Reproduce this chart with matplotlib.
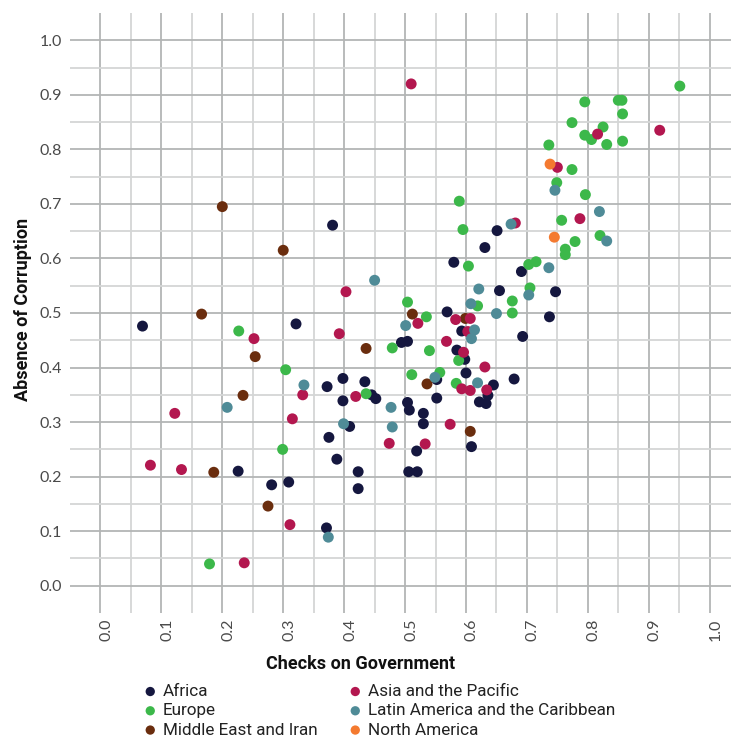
import matplotlib
matplotlib.use("Agg")
import matplotlib.pyplot as plt
import matplotlib.transforms as mtransforms
import numpy as np

# ---------------- data ----------------
africa_x = [0.381, 0.651, 0.631, 0.580, 0.691, 0.655, 0.747, 0.569, 0.737, 0.593, 0.693, 0.494, 0.504,
            0.585, 0.598, 0.600, 0.679, 0.552, 0.645, 0.636, 0.622, 0.633, 0.434, 0.445, 0.452, 0.552,
            0.504, 0.507, 0.530, 0.530, 0.519, 0.609, 0.506, 0.520, 0.423, 0.423, 0.069, 0.321, 0.372,
            0.398, 0.398, 0.409, 0.375, 0.388, 0.226, 0.281, 0.309, 0.371]
africa_y = [0.661, 0.651, 0.620, 0.593, 0.576, 0.541, 0.539, 0.502, 0.493, 0.467, 0.457, 0.446, 0.448,
            0.432, 0.415, 0.390, 0.379, 0.378, 0.368, 0.349, 0.337, 0.334, 0.374, 0.350, 0.343, 0.344,
            0.336, 0.322, 0.316, 0.297, 0.247, 0.255, 0.209, 0.209, 0.209, 0.178, 0.476, 0.480, 0.365,
            0.380, 0.339, 0.292, 0.272, 0.232, 0.210, 0.185, 0.190, 0.106]

europe_x = [0.951, 0.795, 0.850, 0.856, 0.857, 0.774, 0.825, 0.795, 0.806, 0.831, 0.857, 0.736, 0.774,
            0.749, 0.796, 0.589, 0.757, 0.595, 0.779, 0.820, 0.763, 0.763, 0.604, 0.703, 0.715, 0.705,
            0.504, 0.619, 0.676, 0.676, 0.535, 0.479, 0.540, 0.588, 0.511, 0.557, 0.584, 0.436, 0.227,
            0.304, 0.299, 0.179]
europe_y = [0.916, 0.887, 0.890, 0.890, 0.865, 0.849, 0.841, 0.826, 0.818, 0.809, 0.815, 0.808, 0.763,
            0.739, 0.717, 0.705, 0.670, 0.653, 0.631, 0.642, 0.617, 0.607, 0.586, 0.589, 0.594, 0.546,
            0.520, 0.513, 0.522, 0.500, 0.493, 0.436, 0.431, 0.413, 0.387, 0.391, 0.371, 0.352, 0.467,
            0.396, 0.250, 0.040]

mideast_x = [0.200, 0.300, 0.166, 0.512, 0.599, 0.436, 0.536, 0.607, 0.254, 0.234, 0.186, 0.275]
mideast_y = [0.695, 0.615, 0.498, 0.498, 0.490, 0.435, 0.370, 0.283, 0.420, 0.349, 0.208, 0.146]

asia_x = [0.510, 0.918, 0.816, 0.750, 0.787, 0.681, 0.403, 0.521, 0.583, 0.607, 0.603, 0.568, 0.596,
          0.631, 0.593, 0.607, 0.634, 0.574, 0.474, 0.533, 0.252, 0.392, 0.332, 0.122, 0.419, 0.315,
          0.082, 0.133, 0.311, 0.236]
asia_y = [0.920, 0.835, 0.828, 0.767, 0.673, 0.665, 0.539, 0.481, 0.488, 0.490, 0.466, 0.448, 0.428,
          0.401, 0.361, 0.358, 0.359, 0.296, 0.261, 0.260, 0.453, 0.462, 0.350, 0.316, 0.347, 0.306,
          0.221, 0.213, 0.112, 0.042]

latam_x = [0.746, 0.819, 0.674, 0.831, 0.736, 0.450, 0.621, 0.703, 0.608, 0.650, 0.501, 0.614, 0.609,
           0.549, 0.619, 0.477, 0.479, 0.334, 0.208, 0.399, 0.374]
latam_y = [0.725, 0.686, 0.663, 0.632, 0.583, 0.560, 0.544, 0.533, 0.517, 0.499, 0.477, 0.469, 0.453,
           0.382, 0.372, 0.327, 0.291, 0.368, 0.327, 0.297, 0.089]

namerica_x = [0.738, 0.745]
namerica_y = [0.773, 0.639]

regions = ["Africa", "Europe", "Middle East and Iran", "Asia and the Pacific",
           "Latin America and the Caribbean", "North America"]
colors = ["#15173f", "#3cb84a", "#6a2d0e", "#b3174f", "#4f8b97", "#f47a30"]
series_x = [africa_x, europe_x, mideast_x, asia_x, latam_x, namerica_x]
series_y = [africa_y, europe_y, mideast_y, asia_y, latam_y, namerica_y]

tick_vals = [round(0.1 * i, 1) for i in range(11)]
tick_labels = [f"{v:.1f}" for v in tick_vals]

# ---------------- figure ----------------
W, H = 731, 737
fig = plt.figure(figsize=(W / 100, H / 100), dpi=100)
ax = fig.add_axes([70 / W, 1 - 613 / H, (W - 70) / W, 600 / H])
ax.set_xlim(-0.05, 1.035)
ax.set_ylim(-0.05, 1.05)

for s in ax.spines.values():
    s.set_visible(False)

minor = [round(0.05 + 0.1 * i, 2) for i in range(10)]
ax.set_xticks(tick_vals)
ax.set_yticks(tick_vals)
ax.set_xticks(minor, minor=True)
ax.set_yticks(minor, minor=True)
ax.grid(True, which="major", color="#b3b5b5", linewidth=1.3)
ax.grid(True, which="minor", color="#d4d6d6", linewidth=1.3)
ax.set_axisbelow(True)
ax.tick_params(which="both", length=0)

tick_font = ["Lato", "DejaVu Sans"]
ax.set_yticklabels(tick_labels, fontsize=11.5, color="#4a4a4a", family=tick_font)
ax.set_xticklabels(tick_labels, fontsize=11.5, color="#4a4a4a", family=tick_font, rotation=90,
                   va="top", ha="center")
ax.tick_params(axis="y", pad=6)
ax.tick_params(axis="x", pad=4)
offset = mtransforms.ScaledTranslation(6 / 100, 0, fig.dpi_scale_trans)
for lab in ax.get_xticklabels():
    lab.set_transform(lab.get_transform() + offset)

handles = []
for name, c, xs, ys in zip(regions, colors, series_x, series_y):
    h = ax.scatter(xs, ys, s=62, color=c, edgecolors="none", label=name, zorder=3)
    handles.append(h)

title_font = ["Roboto", "DejaVu Sans"]
fig.text(361 / W, 1 - 664 / H, "Checks on Government", ha="center", va="center",
         fontsize=13, fontweight="bold", family=title_font, color="#111111")
fig.text(23 / W, 1 - 309 / H, "Absence of Corruption", ha="center", va="center", rotation=90,
         fontsize=13, fontweight="bold", family=title_font, color="#111111")

leg = fig.legend(handles, regions, ncol=2, loc="upper left",
                 bbox_to_anchor=(140 / W, 1 - 684 / H), frameon=False,
                 prop={"family": title_font, "size": 12.3},
                 handletextpad=0.15, columnspacing=1.6, labelspacing=0.25,
                 handlelength=1.2, markerscale=0.85, borderpad=0, borderaxespad=0)
for t in leg.get_texts():
    t.set_color("#222222")

fig.savefig("out.png", dpi=100)
